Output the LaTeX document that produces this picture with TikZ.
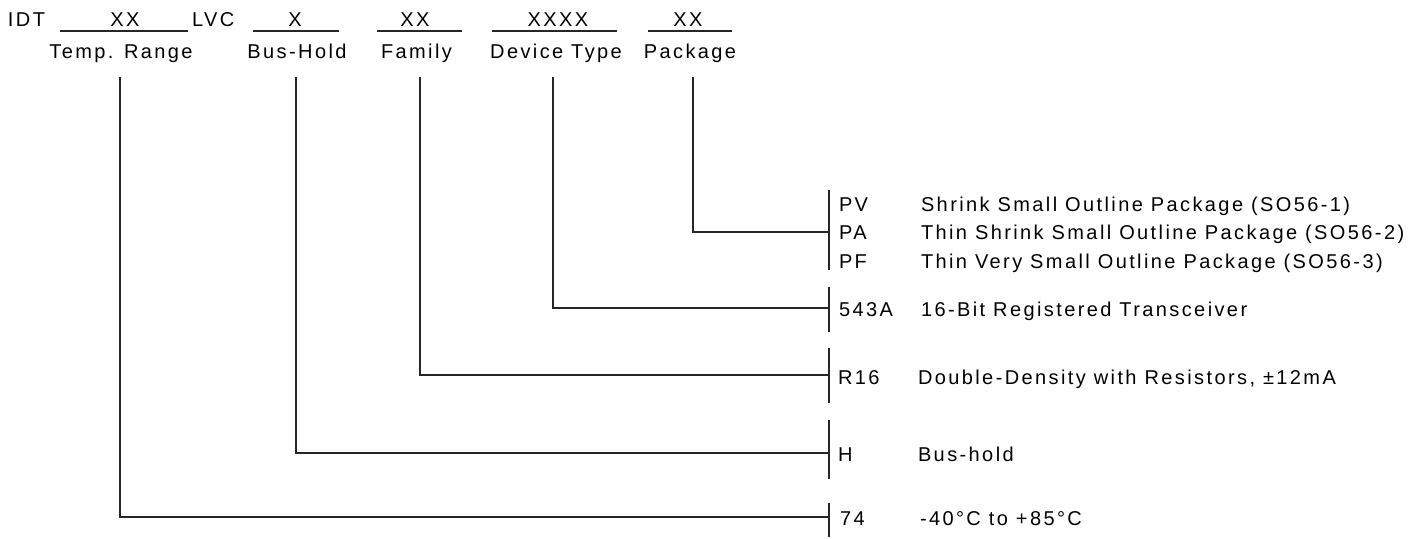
\documentclass[tikz,border=0pt]{standalone}
\usepackage{fontspec}
\setmainfont[LetterSpace=12]{Liberation Sans}
\begin{document}
\begin{tikzpicture}[x=1pt,y=-1pt,
  txt/.style={inner sep=0pt,outer sep=0pt,font=\fontsize{20}{24}\selectfont},
  ln/.style={line width=1.4pt,black!85}]
\useasboundingbox (0,0) rectangle (1423,538);
% code row
\node[txt,anchor=base west] (idt) at (8,26) {IDT};
\node[txt,anchor=base] (c1) at (125,26) {XX};
\node[txt,anchor=base west] (lvc) at (192,26) {LVC};
\node[txt,anchor=base] (c2) at (295,26) {X};
\node[txt,anchor=base] (c3) at (415,26) {XX};
\node[txt,anchor=base] (c4) at (558,26) {XXXX};
\node[txt,anchor=base] (c5) at (688,26) {XX};
% underlines
\coordinate (u1a) at (60,31);  \coordinate (u1b) at (188,31);
\coordinate (u2a) at (253,31); \coordinate (u2b) at (339,31);
\coordinate (u3a) at (377,31); \coordinate (u3b) at (462,31);
\coordinate (u4a) at (492,31); \coordinate (u4b) at (617,31);
\coordinate (u5a) at (648,31); \coordinate (u5b) at (732,31);
\foreach \i in {1,...,5} \draw[ln] (u\i a) -- (u\i b);
% labels
\node[txt,anchor=base] (l1) at (121,58) {Temp. Range};
\node[txt,anchor=base] (l2) at (297,58) {Bus-Hold};
\node[txt,anchor=base] (l3) at (416.5,58) {Family};
\node[txt,anchor=base] (l4) at (556,58) {Device Type};
\node[txt,anchor=base] (l5) at (690,58) {Package};
% vertical starts
\coordinate (t1) at (120,77);
\coordinate (t2) at (296,77);
\coordinate (t3) at (420,77);
\coordinate (t4) at (553,77);
\coordinate (t5) at (693,77);
% bars
\coordinate (b5a) at (829,190); \coordinate (b5b) at (829,270); \coordinate (b5m) at (829,232);
\coordinate (b4a) at (829,287); \coordinate (b4b) at (829,332); \coordinate (b4m) at (829,308);
\coordinate (b3a) at (829,348); \coordinate (b3b) at (829,403); \coordinate (b3m) at (829,375);
\coordinate (b2a) at (829,420); \coordinate (b2b) at (829,479); \coordinate (b2m) at (829,453);
\coordinate (b1a) at (829,503); \coordinate (b1b) at (829,537); \coordinate (b1m) at (829,517);
\foreach \i in {1,...,5} {
  \draw[ln] (b\i a) -- (b\i b);
  \draw[ln] (t\i) |- (b\i m);
}
% right side texts
\node[txt,anchor=base west] (pv) at (839,211) {PV};
\node[txt,anchor=base west] (pa) at (839,239.5) {PA};
\node[txt,anchor=base west] (pf) at (839,268) {PF};
\node[txt,anchor=base west] (dpv) at (921,211) {Shrink Small Outline Package (SO56-1)};
\node[txt,anchor=base west] (dpa) at (921,239.5) {Thin Shrink Small Outline Package (SO56-2)};
\node[txt,anchor=base west] (dpf) at (921,268) {Thin Very Small Outline Package (SO56-3)};
\node[txt,anchor=base west] (k543) at (839,316) {543A};
\node[txt,anchor=base west] (d543) at (921,316) {16-Bit Registered Transceiver};
\node[txt,anchor=base west] (r16) at (838,384) {R16};
\node[txt,anchor=base west] (dr16) at (918,384) {Double-Density with Resistors, ±12mA};
\node[txt,anchor=base west] (h) at (838,461) {H};
\node[txt,anchor=base west] (dh) at (918,461) {Bus-hold};
\node[txt,anchor=base west] (k74) at (840,525) {74};
\node[txt,anchor=base west] (d74) at (920,525) {-40°C to +85°C};
\end{tikzpicture}
\end{document}
